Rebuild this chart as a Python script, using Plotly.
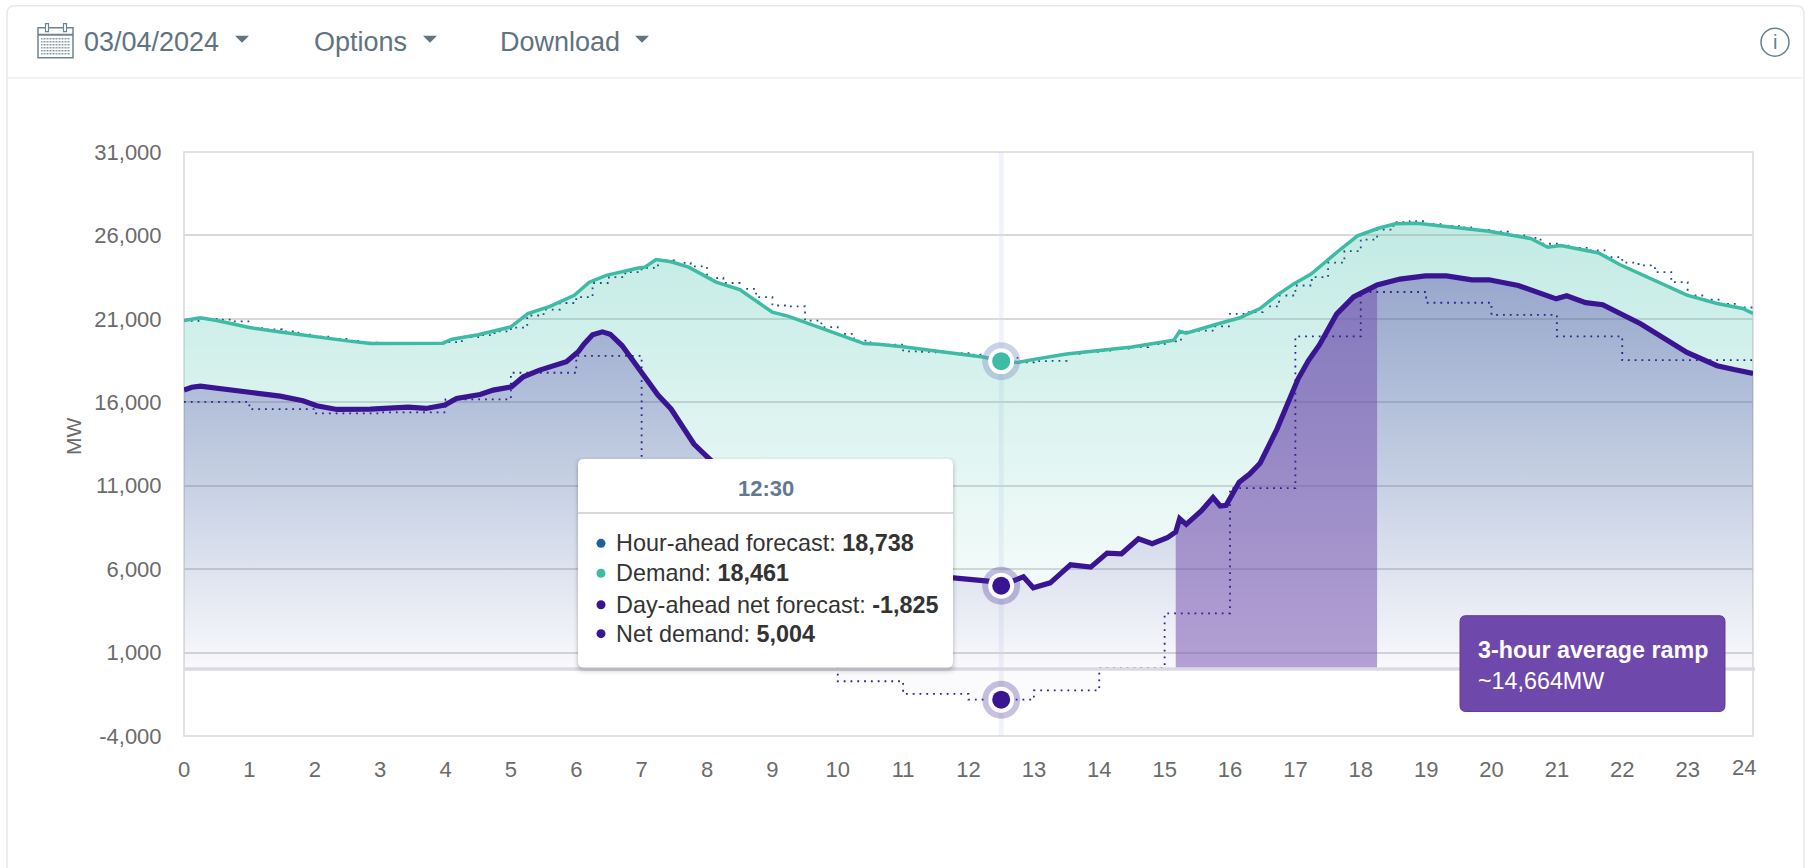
import plotly.graph_objects as go

W, H = 1813, 868
PL, PR, PT, PB = 184, 1753, 151.5, 736.5

DEMAND_T = [0,0.25,0.5,1,1.5,2,2.5,2.85,3.5,3.96,4.1,4.5,5,5.26,5.6,5.97,6.2,6.46,6.95,7.05,7.22,7.45,7.72,8.14,8.5,9,9.25,9.6,10.12,10.4,10.62,11,11.5,12,12.25,12.5,12.75,13,13.5,14,14.5,14.78,15.14,15.23,15.33,15.82,16.14,16.46,16.72,16.98,17.24,17.69,17.95,18.27,18.53,18.86,19.31,19.96,20.6,20.86,21.06,21.64,21.96,22.54,22.99,23.45,23.84,24]
DEMAND_V = [20900,21060,20900,20480,20200,19920,19680,19530,19530,19540,19780,20050,20520,21320,21750,22410,23200,23610,24050,24100,24550,24420,24100,23200,22750,21400,21150,20650,19920,19520,19480,19330,19080,18860,18700,18461,18390,18570,18900,19110,19320,19495,19720,20250,20135,20710,21050,21620,22425,23110,23685,25170,25975,26430,26700,26730,26550,26250,25815,25290,25400,24945,24255,23225,22425,21920,21625,21325]

NET_T = [0,0.12,0.25,0.66,1.06,1.47,1.82,2.03,2.34,2.85,3.25,3.43,3.7,3.99,4.17,4.53,4.73,5.01,5.19,5.44,5.85,6.03,6.12,6.25,6.4,6.52,6.7,7.0,7.25,7.45,7.63,7.8,8.0,8.5,9,9.5,10,10.5,11,11.4,11.77,12.06,12.3,12.5,12.7,12.84,12.99,13.25,13.4,13.56,13.87,14.12,14.34,14.6,14.81,15.04,15.17,15.23,15.33,15.56,15.74,15.85,15.94,16.14,16.3,16.46,16.72,16.9,17.04,17.2,17.37,17.63,17.89,18.25,18.6,18.99,19.31,19.7,19.96,20.41,20.8,20.99,21.15,21.44,21.7,22.28,22.99,23.45,23.71,24]
NET_V = [16730,16900,16970,16730,16570,16370,16090,15790,15570,15590,15630,15710,15630,15830,16230,16470,16730,16930,17530,17930,18430,19030,19500,20050,20220,20080,19400,17830,16430,15600,14540,13500,12740,10900,9400,8100,7200,6400,5900,5600,5480,5360,5280,5004,5300,5540,4880,5180,5700,6260,6120,6960,6920,7820,7520,7880,8230,9030,8685,9490,10290,9785,9830,11205,11700,12350,14410,16000,17390,18500,19450,21280,22310,23030,23385,23570,23570,23340,23340,23000,22425,22200,22380,21970,21850,20710,18990,18190,17960,17730]

HOUR_AHEAD_V = [20880,21000,20950,20850,20450,20370,20250,20050,19930,19800,19680,19570,19530,19530,19520,19530,
                19600,19900,20020,20250,20480,21200,21550,21950,22300,23150,23500,23800,24050,24500,24350,24150,
                23450,23150,22800,22300,21800,21750,20900,20500,20100,19700,19500,19450,19050,19020,19000,18950,
                18850,18720,18738,18400,18470,18480,18900,19030,19100,19220,19310,19480,19650,20230,20300,20550,
                21300,21400,21750,22400,23000,23500,24370,25060,25745,26350,26800,26850,26680,26570,26480,26330,
                26220,26000,25850,25500,25380,25250,25100,24700,24370,24200,23800,23200,22400,22150,21900,21680,21400]
HOUR_AHEAD_T = [i * 0.25 for i in range(len(HOUR_AHEAD_V))]

DAY_NET_T = list(range(25))
DAY_NET_V = [16030,15590,15340,15400,16170,17770,18780,8000,3500,500,-720,-1475,-1825,-1260,80,3350,10860,19950,22610,21965,21235,19950,18530,18530,18530]

HOVER_T = 12.5
HOVER_DEMAND = 18461
HOVER_AHEAD = 18738
HOVER_DAY_NET = -1825
HOVER_NET = 5004
RAMP_START, RAMP_END = 15.17, 18.25
RAMP_LABEL = "~14,664MW"
X_TICKS = list(range(25))
Y_TICKS = list(range(-4000, 31001, 5000))

TEAL, INDIGO = "#3dbba5", "#3a1592"
FONT = "Liberation Sans"
TICK_C = "#6b6b6b"
SLATE = "#5f7380"

fig = go.Figure()

# area fills
fig.add_trace(go.Scatter(x=DEMAND_T, y=DEMAND_V, mode="none", fill="tozeroy", hoverinfo="skip",
    fillgradient=dict(type="vertical", start=0, stop=27000,
        colorscale=[[0, "rgba(61,190,168,0.0)"], [0.35, "rgba(61,190,168,0.11)"], [1, "rgba(61,190,168,0.32)"]])))
fig.add_trace(go.Scatter(x=DAY_NET_T, y=DAY_NET_V, mode="none", line_shape="hv", fill="tozeroy", hoverinfo="skip",
    fillgradient=dict(type="vertical", start=-2000, stop=0,
        colorscale=[[0, "rgba(70,40,170,0.025)"], [0.99, "rgba(70,40,170,0.02)"], [1, "rgba(70,40,170,0)"]])))
fig.add_trace(go.Scatter(x=NET_T, y=NET_V, mode="none", fill="tozeroy", hoverinfo="skip",
    fillgradient=dict(type="vertical", start=0, stop=24000,
        colorscale=[[0, "rgba(70,50,160,0.03)"], [1, "rgba(70,50,160,0.38)"]])))
ramp_t = [t for t in NET_T if RAMP_START <= t <= RAMP_END]
ramp_v = [v for t, v in zip(NET_T, NET_V) if RAMP_START <= t <= RAMP_END]
fig.add_trace(go.Scatter(x=ramp_t, y=ramp_v, mode="none", fill="tozeroy", hoverinfo="skip",
    fillcolor="rgba(111,72,171,0.50)"))

# lines
DOTS = "1.8px,5px"
fig.add_trace(go.Scatter(x=HOUR_AHEAD_T, y=HOUR_AHEAD_V, mode="lines", hoverinfo="skip",
    line=dict(color="#1c4f86", width=1.8, dash=DOTS, shape="hv")))
fig.add_trace(go.Scatter(x=DAY_NET_T, y=DAY_NET_V, mode="lines", hoverinfo="skip",
    line=dict(color="#33208a", width=1.8, dash=DOTS, shape="hv")))
fig.add_trace(go.Scatter(x=DEMAND_T, y=DEMAND_V, mode="lines", hoverinfo="skip", line=dict(color=TEAL, width=3.5)))
fig.add_trace(go.Scatter(x=NET_T, y=NET_V, mode="lines", hoverinfo="skip", line=dict(color=INDIGO, width=5.2)))

# hover markers
hy = [HOVER_DEMAND, HOVER_NET, HOVER_DAY_NET]
hx = [HOVER_T] * 3
fig.add_trace(go.Scatter(x=hx, y=hy, mode="markers", hoverinfo="skip",
    marker=dict(size=38, color=["rgba(120,140,190,0.38)", "rgba(70,50,150,0.30)", "rgba(70,50,150,0.30)"])))
fig.add_trace(go.Scatter(x=hx, y=hy, mode="markers", hoverinfo="skip", marker=dict(size=26, color="white")))
fig.add_trace(go.Scatter(x=hx, y=hy, mode="markers", hoverinfo="skip", marker=dict(size=18, color=[TEAL, INDIGO, INDIGO])))


def px(x):
    return (x - PL) / (PR - PL)


def py(y):
    return (PB - y) / (PB - PT)


def P(x, y):
    return f"{px(x):.5f},{py(y):.5f}"


def rrect(x0, y0, x1, y1, r):
    return (f"M {P(x0 + r, y0)} L {P(x1 - r, y0)} Q {P(x1, y0)} {P(x1, y0 + r)} L {P(x1, y1 - r)} "
            f"Q {P(x1, y1)} {P(x1 - r, y1)} L {P(x0 + r, y1)} Q {P(x0, y1)} {P(x0, y1 - r)} "
            f"L {P(x0, y0 + r)} Q {P(x0, y0)} {P(x0 + r, y0)} Z")


shapes = []
anns = []


def S(**k):
    k.setdefault("xref", "paper")
    k.setdefault("yref", "paper")
    shapes.append(k)


def T(x, y, text, size=21, color=SLATE, anchor="left", **k):
    anns.append(dict(xref="paper", yref="paper", x=px(x), y=py(y), text=text,
                     showarrow=False, xanchor=anchor, yanchor="middle",
                     font=dict(family=FONT, size=size, color=color), **k))


def box(x0, y0, x1, y1, **k):
    S(type="rect", x0=px(x0), x1=px(x1), y0=py(y1), y1=py(y0), **k)


def hline(x0, x1, y, color, width, layer="above"):
    box(x0, y, x1, y, line=dict(color=color, width=width), layer=layer)


# card + header
S(type="path", path=rrect(7, 5, 1804, 900, 8), line=dict(color="#e6e8ea", width=1.5), fillcolor="rgba(0,0,0,0)", layer="below")
hline(8, 1803, 77, "#f0f1f3", 1.5, "below")

# plot frame
box(PL, PT, PR, PB, line=dict(color="#d9d9d9", width=1.5), layer="below")
hline(PL, PR + 2, 669.5, "#dcd9e6", 3.5)

# crosshair at hover position
shapes.append(dict(type="line", xref="x", yref="paper", x0=HOVER_T, x1=HOVER_T, y0=0, y1=1,
                   line=dict(color="rgba(190,200,230,0.22)", width=5), layer="below"))

# calendar icon
box(38, 27, 73, 57, line=dict(color="#6f8490", width=1.5), fillcolor="white")
hline(38, 73, 34, "#6f8490", 2)
for cx in (47, 65):
    box(cx - 1.5, 23, cx + 1.5, 31, line=dict(color="#6f8490", width=1.2), fillcolor="white")
for cy in (38, 41, 44, 47, 50, 53):
    box(41, cy, 70, cy, line=dict(color="#8b9ca6", width=1.5, dash="1.5px,1.5px"))


def caret(cx, cy):
    S(type="path", path=f"M {P(cx - 7, cy - 3)} L {P(cx + 7, cy - 3)} L {P(cx, cy + 4)} Z",
      fillcolor=SLATE, line=dict(width=0))


T(82, 41, "03/04/2024", size=27)
caret(242, 38)
T(312, 41, "Options", size=27)
caret(430, 38)
T(498, 41, "Download", size=27)
caret(642, 38)
S(type="circle", x0=px(1761), x1=px(1789), y0=py(55.5), y1=py(27.5), line=dict(color="#66808c", width=1.5))
T(1775, 41.5, "i", size=20, color="#66808c", anchor="center")

# y-axis title
T(73, 437, "MW", size=21, color=TICK_C, anchor="center", textangle=-90)
# last x tick label, pulled inside like the source chart
anns.append(dict(xref="x", yref="paper", x=X_TICKS[-1], y=0, xshift=-9, yshift=-31, text=str(X_TICKS[-1]), showarrow=False,
                 xanchor="center", yanchor="middle", font=dict(family=FONT, size=22, color=TICK_C)))

# tooltip
TX0, TY0, TX1, TY1 = 578, 459, 953, 668
for off, a in ((5, 0.03), (3, 0.05), (1.5, 0.08)):
    S(type="path", path=rrect(TX0 - off + 1, TY0 - off + 3, TX1 + off - 1, TY1 + off + 2, 8),
      fillcolor=f"rgba(0,0,0,{a})", line=dict(width=0))
S(type="path", path=rrect(TX0, TY0, TX1, TY1, 6), fillcolor="white", line=dict(width=0))
hline(TX0, TX1, 513, "#c9cccf", 1.5)
T(766, 489, "<b>12:30</b>", size=22, color="#5f7a90", anchor="center")
rows = [("#1f5f9e", "Hour-ahead forecast", HOVER_AHEAD, 543.5), (TEAL, "Demand", HOVER_DEMAND, 573.5),
        (INDIGO, "Day-ahead net forecast", HOVER_DAY_NET, 605), (INDIGO, "Net demand", HOVER_NET, 634)]
for col, name, val, y in rows:
    S(type="circle", x0=px(596.5), x1=px(605.5), y0=py(y + 4.5), y1=py(y - 4.5), fillcolor=col, line=dict(width=0))
    T(614, y, f"{name}: <b>{val:,}</b>", size=23.4, color="#333333")

# ramp box
S(type="path", path=rrect(1460, 616, 1725, 712, 6), fillcolor="#6f48ab", line=dict(color="#5f3a9a", width=1))
T(1476, 650, "<b>3-hour average ramp</b>", size=23.3, color="white")
T(1476, 681, RAMP_LABEL, size=23.3, color="white")

fig.update_layout(
    width=W, height=H, showlegend=False, plot_bgcolor="white", paper_bgcolor="white",
    margin=dict(l=PL, r=W - PR, t=PT, b=H - PB, pad=0), shapes=shapes, annotations=anns,
    xaxis=dict(range=[0, 24], tickvals=X_TICKS[:-1], ticktext=[str(t) for t in X_TICKS[:-1]], showgrid=False, zeroline=False,
               ticks="outside", ticklen=14, tickcolor="rgba(0,0,0,0)", tickfont=dict(family=FONT, size=22, color=TICK_C)),
    yaxis=dict(range=[-4000, 31000], tickvals=Y_TICKS, ticktext=[f"{v:,}" for v in Y_TICKS], showgrid=True,
               gridcolor="#d9d9d9", gridwidth=1.5, zeroline=False, ticks="outside", ticklen=17,
               tickcolor="rgba(0,0,0,0)", tickfont=dict(family=FONT, size=22, color=TICK_C)),
)
fig.write_html("out.html", config={"displayModeBar": False},
               post_script="document.body.style.margin='0';document.body.style.overflow='hidden';")
